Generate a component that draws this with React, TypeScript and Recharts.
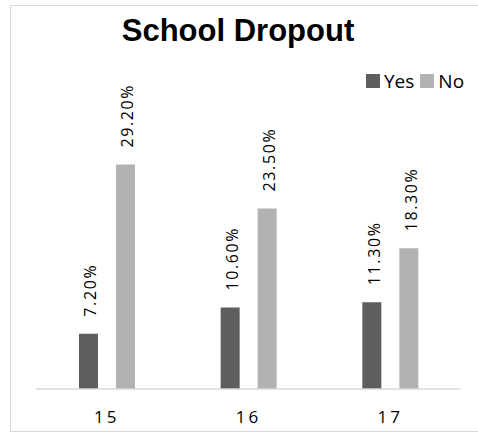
import { Bar, BarChart, LabelList, XAxis, YAxis } from "recharts";

const ages = ["15", "16", "17"];
const yesValues = [7.2, 10.6, 11.3];
const noValues = [29.2, 23.5, 18.3];
const seriesNames = ["Yes", "No"];
const seriesColors = ["#5e5e5e", "#b2b2b2"];

const data = ages.map((age, i) => ({ age, yes: yesValues[i], no: noValues[i] }));

const labelFont = "'Open Sans', 'DejaVu Sans', sans-serif";

function RotatedLabel(props: any) {
  const { x, y, width, value } = props;
  const cx = x + width / 2 + 2;
  const ty = y - 17;
  return (
    <text
      x={cx}
      y={ty}
      transform={`rotate(-90 ${cx} ${ty})`}
      textAnchor="start"
      dominantBaseline="central"
      fontFamily={labelFont}
      fontSize={16}
      letterSpacing={1.6}
      fill="#000"
    >
      {`${Number(value).toFixed(2)}%`}
    </text>
  );
}

export default function App() {
  return (
    <div
      style={{
        position: "absolute",
        left: 0,
        top: 0,
        width: 478,
        height: 432,
        background: "#fff",
        overflow: "hidden",
      }}
    >
      <div
        style={{
          position: "absolute",
          left: 10,
          top: 5,
          width: 480,
          height: 425,
          border: "1px solid #d9d9d9",
        }}
      />
      <div
        style={{
          position: "absolute",
          left: 0,
          top: 13,
          width: 476,
          textAlign: "center",
          fontFamily: "Arial, 'Liberation Sans', sans-serif",
          fontWeight: "bold",
          fontSize: 31,
          lineHeight: "36px",
          color: "#000",
        }}
      >
        School Dropout
      </div>
      <div
        style={{
          position: "absolute",
          left: 366,
          top: 68,
          display: "flex",
          alignItems: "center",
          fontFamily: labelFont,
          fontSize: 19,
          color: "#000",
          whiteSpace: "nowrap",
        }}
      >
        {seriesNames.map((n, i) => (
          <span key={n} style={{ display: "flex", alignItems: "center", marginRight: 6 }}>
            <span
              style={{
                display: "inline-block",
                width: 14,
                height: 14,
                background: seriesColors[i],
                marginRight: 4,
              }}
            />
            {n}
          </span>
        ))}
      </div>
      <BarChart
        width={478}
        height={432}
        data={data}
        margin={{ top: 120, right: 17, bottom: 13, left: 36 }}
        barSize={19}
        barGap={18}
        style={{ position: "absolute", left: 0, top: 0 }}
      >
        <XAxis
          dataKey="age"
          axisLine={{ stroke: "#d9d9d9", strokeWidth: 1.5 }}
          tickLine={false}
          height={30}
          tick={{
            fill: "#000",
            fontSize: 17,
            fontFamily: labelFont,
            letterSpacing: 3,
            dy: 14,
          }}
        />
        <YAxis hide domain={[0, 35]} />
        <Bar dataKey="yes" name={seriesNames[0]} fill={seriesColors[0]} isAnimationActive={false}>
          <LabelList dataKey="yes" content={RotatedLabel} />
        </Bar>
        <Bar dataKey="no" name={seriesNames[1]} fill={seriesColors[1]} isAnimationActive={false}>
          <LabelList dataKey="no" content={RotatedLabel} />
        </Bar>
      </BarChart>
    </div>
  );
}
